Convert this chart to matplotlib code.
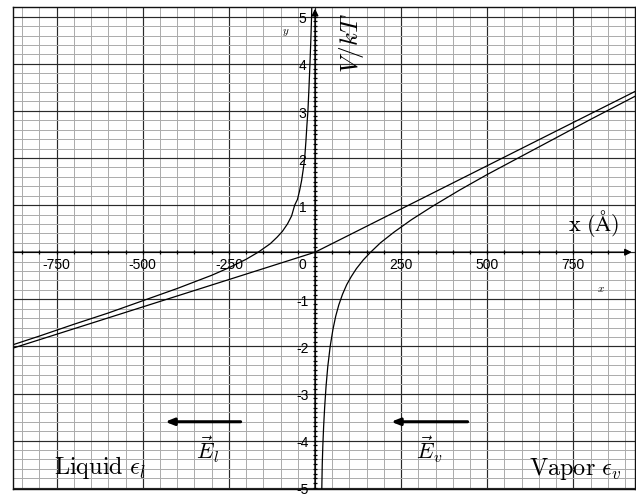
import numpy as np
import matplotlib as mpl
mpl.use('Agg')
import matplotlib.pyplot as plt

mpl.rcParams.update({'mathtext.fontset': 'cm', 'font.family': 'Liberation Sans', 'font.size': 10})

# applied-field potential (piecewise linear, kinks at the interface x=0)
line_x = [-900, 0, 950]
line_y = [-2.09, 0.0, 3.49]
# liquid side, with the image-charge term
liq_x = [-900, -800, -700, -600, -500, -400, -300, -250, -200, -165, -130, -110, -95, -80, -68,
         -59, -51, -45, -39, -34, -30, -26.5, -23.5, -20.6, -17.5, -14.7, -12.2, -10.0, -9.2]
liq_y = [-2.02, -1.78, -1.53, -1.29, -1.03, -0.77, -0.49, -0.33, -0.15, 0.0, 0.18, 0.32, 0.44, 0.60, 0.77,
         1.0, 1.12, 1.30, 1.52, 1.77, 2.0, 2.35, 2.7, 3.0, 3.5, 4.0, 4.5, 5.0, 5.3]
# vapor side
vap_x = [19.5, 21, 22.6, 25, 28, 32, 37, 44, 52, 60, 69, 80, 92, 105, 120, 140, 160, 190, 230,
         280, 340, 420, 500, 600, 700, 800, 950]
vap_y = [-5.1, -4.5, -4.12, -3.7, -3.29, -2.85, -2.43, -2.0, -1.64, -1.36, -1.12, -0.89, -0.69, -0.52,
         -0.35, -0.165, -0.01, 0.20, 0.43, 0.69, 0.97, 1.32, 1.65, 2.04, 2.43, 2.82, 3.39]

x_lab_pos = [-750, -500, -250, 250, 500, 750]
x_lab = ['-750', '-500', '-250', '250', '500', '750']
y_lab_pos = [5, 4, 3, 2, 1, -1, -2, -3, -4, -5]
y_lab = ['5', '4', '3', '2', '1', '-1', '-2', '-3', '-4', '-5']

fig = plt.figure(figsize=(6.36, 4.98), dpi=100, facecolor='white')
ax = fig.add_axes([13.3/636, (498-488.5)/498, (635-13.3)/636, (488.5-7.3)/498])
ax.set_xlim(-876, 929); ax.set_ylim(-5.017, 5.2)

# graph paper
ax.set_xticks(np.arange(-750, 751, 250)); ax.set_xticks(np.arange(-850, 929, 50), minor=True)
ax.set_yticks(np.arange(-5, 5.1, 1)); ax.set_yticks(np.arange(-5, 5.21, 0.2), minor=True)
ax.grid(which='minor', color='#ababab', lw=0.7)
ax.grid(which='major', color='#2a2a2a', lw=0.85)
ax.tick_params(which='both', length=0, labelbottom=False, labelleft=False)
ax.set_axisbelow(True)
for s in ax.spines.values(): s.set_color('#111'); s.set_linewidth(1.0)

# axes with arrows and small ticks
ax.annotate('', xy=(920, 0), xytext=(-876, 0),
            arrowprops=dict(arrowstyle='-|>', color='k', lw=1.0, shrinkA=0, shrinkB=0, mutation_scale=10))
ax.annotate('', xy=(0, 5.17), xytext=(0, -5.017),
            arrowprops=dict(arrowstyle='-|>', color='k', lw=1.0, shrinkA=0, shrinkB=0, mutation_scale=10))
ax.plot(np.arange(-850, 901, 50), np.zeros(36), '|', color='k', ms=3, mew=0.9)
yt = np.arange(-50, 51) / 10
ax.plot(np.zeros(len(yt)), yt, '_', color='k', ms=3, mew=0.9)

for xv, t in zip(x_lab_pos, x_lab):
    ax.text(xv, -0.36, t, ha='center', va='baseline', fontsize=10)
ax.text(-36, -0.36, '0', ha='center', va='baseline', fontsize=10)
for yv, t in zip(y_lab_pos, y_lab):
    ax.text(-36, yv - 0.14, t, ha='center', va='baseline', fontsize=10)

# curves
ax.plot(line_x, line_y, color='k', lw=0.9)
ax.plot(liq_x, liq_y, color='k', lw=0.9)
ax.plot(vap_x, vap_y, color='k', lw=0.9)

# field arrows
for x0, x1 in ((-216, -435), (443, 221)):
    ax.annotate('', xy=(x1, -3.6), xytext=(x0, -3.6),
                arrowprops=dict(arrowstyle='-|>,head_length=0.5,head_width=0.2', color='k', lw=2.2,
                                shrinkA=0, shrinkB=0))

ax.text(107, 4.44, r'$V/kT$', rotation=90, ha='center', va='center', fontsize=18)
ax.text(810, 0.60, r'$\mathrm{x\ (\AA)}$', ha='center', va='center', fontsize=16)
ax.text(-86, 4.66, r'$y$', ha='center', va='center', fontsize=8)
ax.text(830, -0.78, r'$x$', ha='center', va='center', fontsize=8)
ax.text(-311, -4.2, r'$\vec{E}_l$', ha='center', va='center', fontsize=16)
ax.text(331, -4.2, r'$\vec{E}_v$', ha='center', va='center', fontsize=16)
ax.text(-624, -4.58, r'$\mathrm{Liquid}\ \epsilon_l$', ha='center', va='center', fontsize=17.5)
ax.text(755, -4.6, r'$\mathrm{Vapor}\ \epsilon_v$', ha='center', va='center', fontsize=17.5)

fig.savefig('out.png', dpi=100, facecolor='white')
plt.close(fig)
